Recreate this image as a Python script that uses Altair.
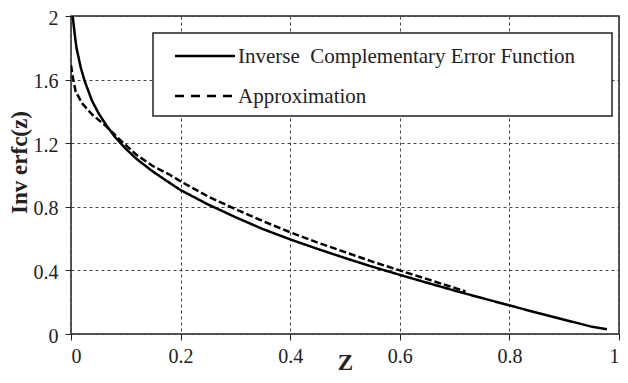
import altair as alt
import pandas as pd

# Data
solid_z = [0.003, 0.007, 0.01, 0.0175, 0.025, 0.0386, 0.05, 0.065, 0.08, 0.10, 0.12, 0.15,
           0.178, 0.20, 0.25, 0.30, 0.35, 0.40, 0.45, 0.50, 0.55, 0.60, 0.65, 0.70, 0.75,
           0.80, 0.85, 0.90, 0.95, 0.978]
solid_v = [2.00, 1.88, 1.80, 1.68, 1.59, 1.465, 1.39, 1.31, 1.24, 1.165, 1.10, 1.02,
           0.955, 0.905, 0.815, 0.735, 0.66, 0.595, 0.535, 0.478, 0.423, 0.372, 0.322, 0.273, 0.226,
           0.18, 0.134, 0.09, 0.046, 0.03]

dashed_z = [0.0, 0.004, 0.0085, 0.0205, 0.0386, 0.063, 0.093, 0.12, 0.15, 0.178, 0.20, 0.25,
            0.30, 0.35, 0.40, 0.45, 0.50, 0.55, 0.60, 0.65, 0.70, 0.72]
dashed_v = [1.69, 1.60, 1.525, 1.45, 1.38, 1.31, 1.21, 1.125, 1.055, 1.006, 0.96, 0.865,
            0.785, 0.71, 0.64, 0.575, 0.515, 0.455, 0.40, 0.345, 0.29, 0.268]

series_names = ["Inverse\u00a0 Complementary Error Function", "Approximation"]
x_ticks = [0, 0.2, 0.4, 0.6, 0.8, 1]
y_ticks = [0, 0.4, 0.8, 1.2, 1.6, 2]

FONT = "Liberation Serif"
INK = "#222222"

df = pd.concat([
    pd.DataFrame({"z": solid_z, "v": solid_v, "series": series_names[0], "order": range(len(solid_z))}),
    pd.DataFrame({"z": dashed_z, "v": dashed_v, "series": series_names[1], "order": range(len(dashed_z))}),
])

W, H = 548, 318

lines = alt.Chart(df).mark_line(color="black", strokeWidth=2.5, clip=True).encode(
    x=alt.X("z:Q", scale=alt.Scale(domain=[0, 1], nice=False),
            axis=alt.Axis(values=x_ticks, format="~g", title="Z",
                          titleX=W / 2, titleY=35, titleAlign="center",
                          titleBaseline="alphabetic", labelPadding=6)),
    y=alt.Y("v:Q", scale=alt.Scale(domain=[0, 2], nice=False),
            axis=alt.Axis(values=y_ticks, format="~g", title="Inv erfc(z)",
                          titleX=-45, titleY=146, titleAngle=-90, titleAlign="center",
                          titleBaseline="alphabetic", labelPadding=7, labelOffset=2)),
    strokeDash=alt.StrokeDash("series:N", scale=alt.Scale(domain=series_names, range=[[1, 0], [7, 3]]),
                              legend=None),
    order="order:Q",
)

one = pd.DataFrame({"k": [0]})

box = alt.Chart(one).mark_rect(fill="white", stroke=INK, strokeWidth=1.5).encode(
    x=alt.value(82), x2=alt.value(541), y=alt.value(17), y2=alt.value(100)
)
sym1 = alt.Chart(one).mark_rule(color="black", strokeWidth=2.5).encode(
    x=alt.value(104), x2=alt.value(164), y=alt.value(40)
)
sym2 = alt.Chart(one).mark_rule(color="black", strokeWidth=2.5, strokeDash=[9, 7]).encode(
    x=alt.value(104), x2=alt.value(161), y=alt.value(80)
)
lab1 = alt.Chart(one).mark_text(font=FONT, fontSize=21, color=INK, align="left", baseline="middle").encode(
    x=alt.value(167), y=alt.value(41), text=alt.value(series_names[0])
)
lab2 = alt.Chart(one).mark_text(font=FONT, fontSize=21, color=INK, align="left", baseline="middle").encode(
    x=alt.value(167), y=alt.value(81), text=alt.value(series_names[1])
)

chart = alt.layer(lines, box, sym1, sym2, lab1, lab2).properties(
    width=W, height=H,
    autosize=alt.AutoSizeParams(type="none"),
    padding={"left": 63, "top": 8, "right": 1, "bottom": 41},
    background="white",
).configure_view(
    stroke=INK, strokeWidth=1.5
).configure_axis(
    domain=False,
    grid=True, gridColor="#444444", gridDash=[3, 3], gridWidth=1,
    ticks=True, tickSize=6, tickColor=INK, tickWidth=1,
    labelFont=FONT, labelFontSize=20, labelColor=INK,
    titleFont=FONT, titleFontSize=23, titleFontWeight="bold", titleColor=INK,
)

chart.save("out.html", embed_options={"renderer": "svg", "actions": False})
